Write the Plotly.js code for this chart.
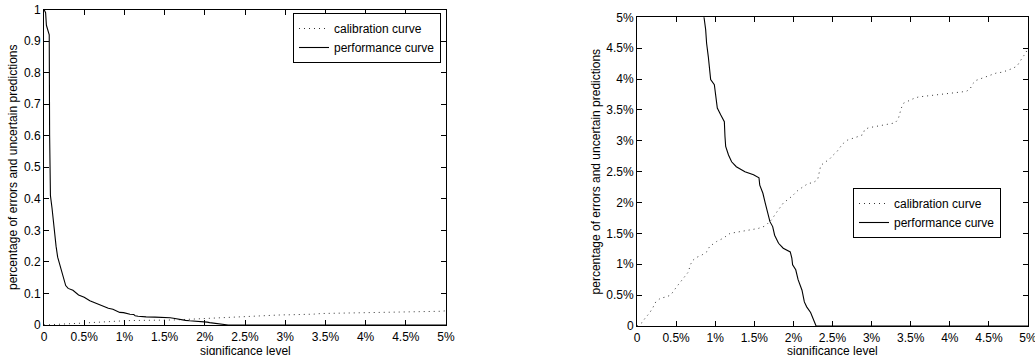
<!DOCTYPE html>
<html>
<head>
<meta charset="utf-8">
<script src="https://cdn.plot.ly/plotly-3.0.1.min.js"></script>
<style>html,body{margin:0;padding:0;background:#fff;overflow:hidden;}#chart{width:1035px;height:355px;}</style>
</head>
<body>
<div id="chart"></div>
<script>
// significance level (fraction) and performance curve values (fraction)
const perfX = [
  0, 0.0002, 0.0003, 0.0005, 0.00065, 0.0007, 0.0008, 0.0010, 0.00125, 0.0015,
  0.0017, 0.0019, 0.0022, 0.0024, 0.0027, 0.0030, 0.0036, 0.0043, 0.0050, 0.0057,
  0.0065, 0.0072, 0.0080, 0.00857, 0.00878, 0.0089, 0.00912, 0.00925, 0.00942, 0.00989,
  0.0101, 0.01027, 0.0107, 0.01117, 0.01125, 0.01134, 0.0117, 0.0121, 0.0127, 0.0138,
  0.0149, 0.0156, 0.0157, 0.0161, 0.0164, 0.0167, 0.0170, 0.01735, 0.0176, 0.0181,
  0.0187, 0.0196, 0.0198, 0.0199, 0.0203, 0.0206, 0.0211, 0.0214, 0.0217, 0.0222,
  0.0226, 0.0229, 0.05
];
const perfY = [
  1.0, 0.99, 0.95, 0.93, 0.92, 0.60, 0.41, 0.37, 0.30, 0.25,
  0.215, 0.196, 0.17, 0.145, 0.125, 0.116, 0.11, 0.095, 0.088, 0.077,
  0.069, 0.060, 0.053, 0.050, 0.048, 0.0458, 0.0436, 0.0423, 0.0399, 0.0391,
  0.0374, 0.0353, 0.0342, 0.0331, 0.0307, 0.0291, 0.0277, 0.0266, 0.0258, 0.0250,
  0.0245, 0.0240, 0.0228, 0.0215, 0.0199, 0.0183, 0.0169, 0.0161, 0.0147, 0.0134,
  0.0126, 0.0120, 0.0110, 0.0099, 0.0091, 0.0075, 0.0058, 0.0039, 0.0031, 0.0022,
  0.0010, 0.0, 0.0
];
// calibration curve
const calX = [
  0, 0.0006, 0.0010, 0.0016, 0.0020, 0.0024, 0.0030, 0.0037, 0.0043, 0.0046,
  0.0051, 0.0056, 0.0061, 0.0066, 0.0068, 0.0072, 0.0076, 0.0083, 0.0089, 0.0093,
  0.0102, 0.0110, 0.0119, 0.0132, 0.0145, 0.0155, 0.0164, 0.0172, 0.0179, 0.0187,
  0.0198, 0.0206, 0.0219, 0.0225, 0.0231, 0.0234, 0.0235, 0.0240, 0.0246, 0.0251,
  0.0256, 0.0260, 0.0264, 0.0269, 0.0277, 0.0283, 0.0289, 0.0291, 0.0296, 0.0304,
  0.0310, 0.0317, 0.0324, 0.0330, 0.0334, 0.0336, 0.0338, 0.0341, 0.0347, 0.0353,
  0.0360, 0.0366, 0.0373, 0.0380, 0.0387, 0.0394, 0.0401, 0.0407, 0.0414, 0.0421,
  0.0426, 0.0429, 0.0434, 0.0440, 0.0447, 0.0453, 0.0460, 0.0467, 0.0474, 0.0480,
  0.0486, 0.0489, 0.0493, 0.0497, 0.0500
];
const calY = [
  0, 0.0005, 0.0012, 0.0021, 0.0029, 0.0039, 0.0045, 0.0047, 0.0050, 0.0056,
  0.0064, 0.0072, 0.0080, 0.0088, 0.0099, 0.0107, 0.0111, 0.0115, 0.0120, 0.0129,
  0.0137, 0.0142, 0.0150, 0.0153, 0.0156, 0.0158, 0.0162, 0.0172, 0.0185, 0.0199,
  0.0210, 0.0220, 0.0231, 0.0232, 0.0237, 0.0252, 0.0260, 0.0265, 0.0270, 0.0277,
  0.0283, 0.0290, 0.0296, 0.0301, 0.0304, 0.0307, 0.0310, 0.0318, 0.0321, 0.0323,
  0.0324, 0.0326, 0.0327, 0.0329, 0.0335, 0.0344, 0.0353, 0.0361, 0.0365, 0.0368,
  0.0371, 0.0372, 0.0373, 0.0374, 0.0375, 0.0376, 0.0377, 0.0378, 0.0379, 0.0380,
  0.0384, 0.0392, 0.0398, 0.0401, 0.0404, 0.0407, 0.0410, 0.0411, 0.0414, 0.0417,
  0.0421, 0.0428, 0.0435, 0.0442, 0.0450
];
// tick values and labels
const xTickVals = [0, 0.005, 0.01, 0.015, 0.02, 0.025, 0.03, 0.035, 0.04, 0.045, 0.05];
const xTickText = ['0', '0.5%', '1%', '1.5%', '2%', '2.5%', '3%', '3.5%', '4%', '4.5%', '5%'];
const y1TickVals = [0, 0.1, 0.2, 0.3, 0.4, 0.5, 0.6, 0.7, 0.8, 0.9, 1];
const y1TickText = ['0', '0.1', '0.2', '0.3', '0.4', '0.5', '0.6', '0.7', '0.8', '0.9', '1'];
const y2TickVals = xTickVals;
const y2TickText = xTickText;
const seriesNames = ['calibration curve', 'performance curve'];
const xTitle = 'significance level';
const yTitle = 'percentage of errors and uncertain predictions';

const FONT = 'Liberation Sans, Arial, Helvetica, sans-serif';
const calLine = {color: '#333', width: 1, dash: '1px,4px'};
const perfLine = {color: '#000', width: 1.1};

const traces = [
  {x: calX, y: calY, mode: 'lines', name: seriesNames[0], line: calLine, xaxis: 'x', yaxis: 'y', legend: 'legend'},
  {x: perfX, y: perfY, mode: 'lines', name: seriesNames[1], line: perfLine, xaxis: 'x', yaxis: 'y', legend: 'legend'},
  {x: calX, y: calY, mode: 'lines', name: seriesNames[0], line: calLine, xaxis: 'x2', yaxis: 'y2', legend: 'legend2'},
  {x: perfX, y: perfY, mode: 'lines', name: seriesNames[1], line: perfLine, xaxis: 'x2', yaxis: 'y2', legend: 'legend2'}
];

function axis(extra) {
  return Object.assign({
    showline: true, linecolor: '#000', linewidth: 1, mirror: 'ticks',
    ticks: 'inside', ticklen: 5, tickwidth: 1, tickcolor: '#000',
    showgrid: false, zeroline: false, automargin: false,
    ticklabeloverflow: 'allow',
    tickfont: {family: FONT, size: 12, color: '#000'},
    fixedrange: true
  }, extra);
}

function xTitleAnnotation(ref) {
  return {text: xTitle, xref: ref + ' domain', x: 0.5, xanchor: 'center',
    yref: 'paper', y: -3.5/355, yanchor: 'bottom', showarrow: false,
    font: {family: FONT, size: 12, color: '#000'}, borderpad: 0};
}

const layout = {
  width: 1035, height: 355,
  margin: {l: 0, r: 0, t: 0, b: 0},
  paper_bgcolor: '#fff', plot_bgcolor: '#fff',
  font: {family: FONT, size: 12, color: '#000'},
  xaxis: axis({domain: [44/1035, 446/1035], range: [0, 0.05], anchor: 'y',
    tickvals: xTickVals, ticktext: xTickText, ticklabelstandoff: 1}),
  yaxis: axis({domain: [1 - 325/355, 1 - 9.5/355], range: [0, 1], anchor: 'x',
    tickvals: y1TickVals, ticktext: y1TickText,
    title: {text: yTitle, font: {family: FONT, size: 12}, standoff: 3}}),
  xaxis2: axis({domain: [637/1035, 1028/1035], range: [0, 0.05], anchor: 'y2',
    tickvals: xTickVals, ticktext: xTickText, ticklabelstandoff: 1}),
  yaxis2: axis({domain: [1 - 326/355, 1 - 17.3/355], range: [0, 0.05], anchor: 'x2',
    tickvals: y2TickVals, ticktext: y2TickText,
    title: {text: yTitle, font: {family: FONT, size: 12}, standoff: 3}}),
  annotations: [xTitleAnnotation('x'), xTitleAnnotation('x2')],
  legend: {x: 441/1035, y: 1 - 13/355, xanchor: 'right', yanchor: 'top',
    bgcolor: '#fff', bordercolor: '#000', borderwidth: 1,
    font: {family: FONT, size: 12, color: '#000'}, tracegroupgap: 0},
  legend2: {x: 1001/1035, y: 1 - 188/355, xanchor: 'right', yanchor: 'top',
    bgcolor: '#fff', bordercolor: '#000', borderwidth: 1,
    font: {family: FONT, size: 12, color: '#000'}, tracegroupgap: 0},
  showlegend: true
};

Plotly.newPlot('chart', traces, layout, {displayModeBar: false, staticPlot: true});
</script>
</body>
</html>
